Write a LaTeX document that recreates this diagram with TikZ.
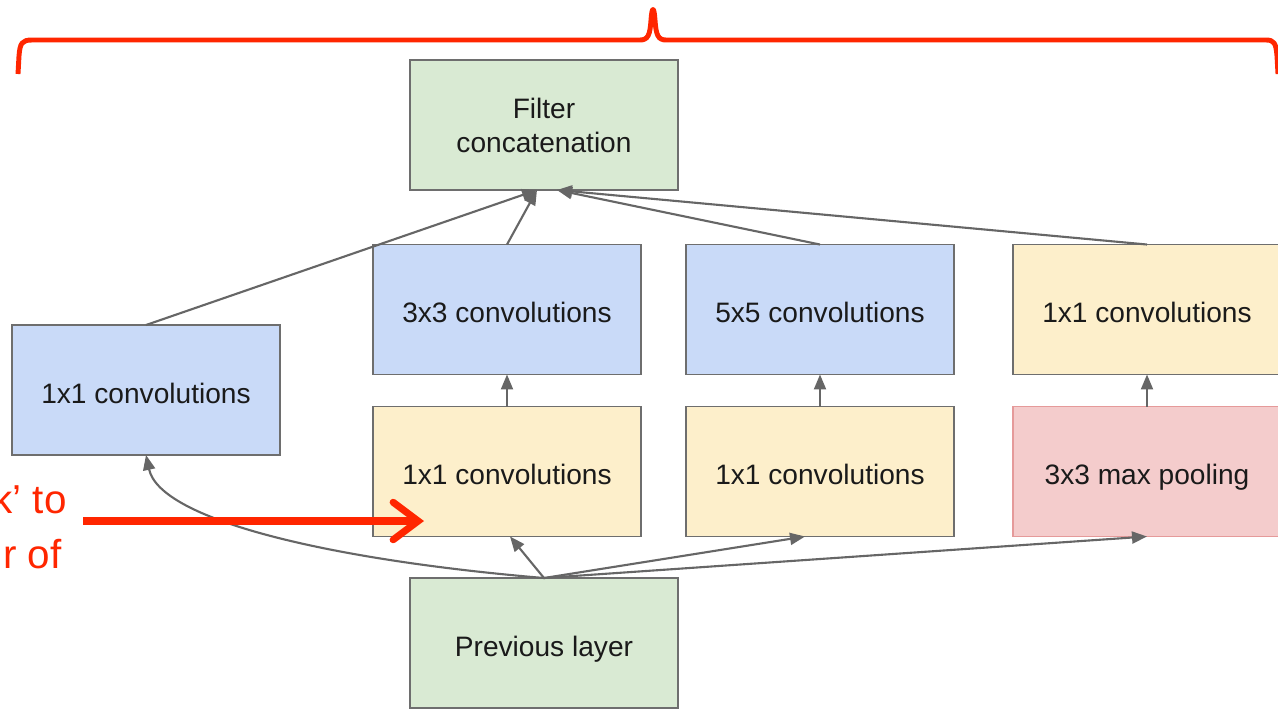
\documentclass[tikz,border=0pt]{standalone}
\usepackage{fontspec}
\setmainfont{Liberation Sans}
\usetikzlibrary{arrows.meta}
\definecolor{gfill}{HTML}{D9EAD3}
\definecolor{bfill}{HTML}{C9DAF8}
\definecolor{yfill}{HTML}{FDEFCB}
\definecolor{rfill}{HTML}{F4CCCC}
\definecolor{rbord}{HTML}{E59A9A}
\definecolor{gbord}{HTML}{6E6E6E}
\definecolor{conn}{HTML}{666666}
\definecolor{redmark}{HTML}{FF2600}
\definecolor{txt}{HTML}{1A1A1A}
\tikzset{
  box/.style={draw=gbord, line width=1.1pt, minimum width=5.36cm, minimum height=2.6cm,
    inner sep=0pt, outer sep=0pt, align=center, text=txt,
    font=\fontsize{16}{19.3}\selectfont},
  oneline/.style={text height=16pt, text depth=1.2pt},
  gbox/.style={box, fill=gfill},
  bbox/.style={box, fill=bfill, oneline},
  ybox/.style={box, fill=yfill, oneline},
  rbox/.style={box, fill=rfill, draw=rbord, oneline},
  conarrow/.style={draw=conn, line width=1.2pt, -{Triangle[length=0.3cm,width=0.24cm]}},
  redtext/.style={text=redmark, font=\fontsize{23}{27}\selectfont, inner sep=0pt, anchor=base east},
}
\begin{document}
\begin{tikzpicture}[x=0.02cm, y=-0.02cm]
\useasboundingbox (0,0) rectangle (1278,708);
\clip (0,0) rectangle (1278,708);
\fill[white] (0,0) rectangle (1278,708);

% boxes
\node[gbox] (concat) at (544,125) {Filter\\concatenation};
\node[bbox] (left1) at (146,390) {1x1 convolutions};
\node[bbox] (c3) at (507,309.5) {3x3 convolutions};
\node[bbox] (c5) at (820,309.5) {5x5 convolutions};
\node[ybox] (r1) at (1147,309.5) {1x1 convolutions};
\node[ybox] (y1) at (507,471.5) {1x1 convolutions};
\node[ybox] (y2) at (820,471.5) {1x1 convolutions};
\node[rbox] (pool) at (1147,471.5) {3x3 max pooling};
\node[gbox, oneline] (prev) at (544,643) {Previous layer};

% connectors from previous layer
\draw[conarrow] (prev.north) .. controls (330,560) and (160,520) .. (left1.south);
\draw[conarrow] (prev.north) -- ([xshift=0.06cm]y1.south);
\draw[conarrow] (prev.north) -- ([xshift=-0.3cm]y2.south);
\draw[conarrow] (prev.north) -- (pool.south);

% vertical arrows
\draw[conarrow] (y1.north) -- (c3.south);
\draw[conarrow] (y2.north) -- (c5.south);
\draw[conarrow] (pool.north) -- (r1.south);

% into concatenation
\draw[conarrow] (left1.north) -- ([xshift=-0.14cm]concat.south);
\draw[conarrow] (c3.north) -- ([xshift=-0.14cm]concat.south);
\draw[conarrow] (c5.north) -- ([xshift=0.26cm]concat.south);
\draw[conarrow] (r1.north) -- ([xshift=0.26cm]concat.south);

% red brace
\draw[redmark, line width=2.8pt, line join=round]
  (18,74) -- (19,56) .. controls (20,43) and (22,40) .. (32,40) -- (640,40)
  .. controls (648,40) and (650,35) .. (651,20) .. controls (652,6) and (654,6) .. (655,20)
  .. controls (656,35) and (658,40) .. (666,40) -- (1266,40)
  .. controls (1274,40) and (1276,43) .. (1277,56) -- (1278,74);

% red arrow and text
\coordinate (rs) at (83,521);
\coordinate (re) at (424,521);
\draw[redmark, line width=4pt, -{Straight Barb[length=0.5cm,width=0.75cm,line cap=round]}] (rs) -- (re);
\node[redtext] (t1) at (67,513) {k’ to};
\node[redtext] (t2) at (62,568) {r of};
\end{tikzpicture}
\end{document}
